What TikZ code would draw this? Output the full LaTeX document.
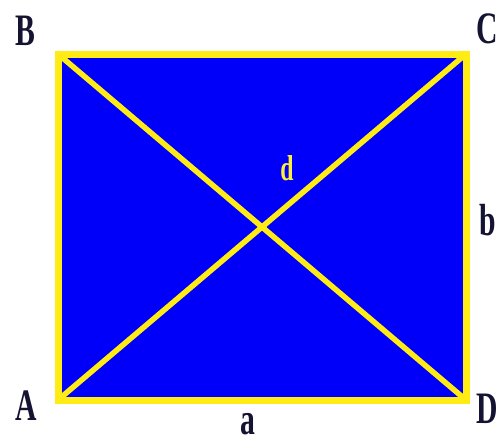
\documentclass[tikz,border=0pt]{standalone}
\usepackage{fontspec}
\setmainfont{Liberation Serif}
\newfontfamily\lblfont[FakeStretch=0.66]{Liberation Serif}
\usetikzlibrary{positioning}
\definecolor{rectblue}{RGB}{0,0,250}
\definecolor{rectyellow}{RGB}{255,236,20}
\definecolor{lbldark}{RGB}{20,20,50}
\tikzset{
    edge/.style={
        draw=rectyellow,
        line width=7pt,
        line join=miter
    },
    diag/.style={
        draw=rectyellow,
        line width=5.5pt
    },
    lbl/.style={
        anchor=base,
        inner sep=0pt,
        text=lbldark,
        font=\lblfont\bfseries\fontsize{45}{45}\selectfont
    },
    dlbl/.style={
        anchor=base,
        inner sep=0pt,
        text=rectyellow!85!white,
        font=\lblfont\bfseries\fontsize{36}{36}\selectfont
    }
}
\begin{document}
\begin{tikzpicture}[x=1pt,y=-1pt]
\useasboundingbox (0,0) rectangle (499,445);

% corners
\coordinate (A) at (58,400);
\coordinate (B) at (58,54);
\coordinate (C) at (466,54);
\coordinate (D) at (466,400);

\fill[rectblue] (A) -- (B) -- (C) -- (D) -- cycle;
\draw[diag] (A) -- (C);
\draw[diag] (B) -- (D);
\draw[edge] (A) -- (B) -- (C) -- (D) -- cycle;

% labels
\node[lbl] (lA) at (26,420) {A};
\node[lbl] (lB) at (25,45) {B};
\node[lbl] (lC) at (487,43) {C};
\node[lbl] (lD) at (487,423) {D};
\node[lbl] (la) at (248,434) {a};
\node[lbl] (lb) at (488,235) {b};
\node[dlbl] (ld) at (287,180) {d};

\end{tikzpicture}
\end{document}
